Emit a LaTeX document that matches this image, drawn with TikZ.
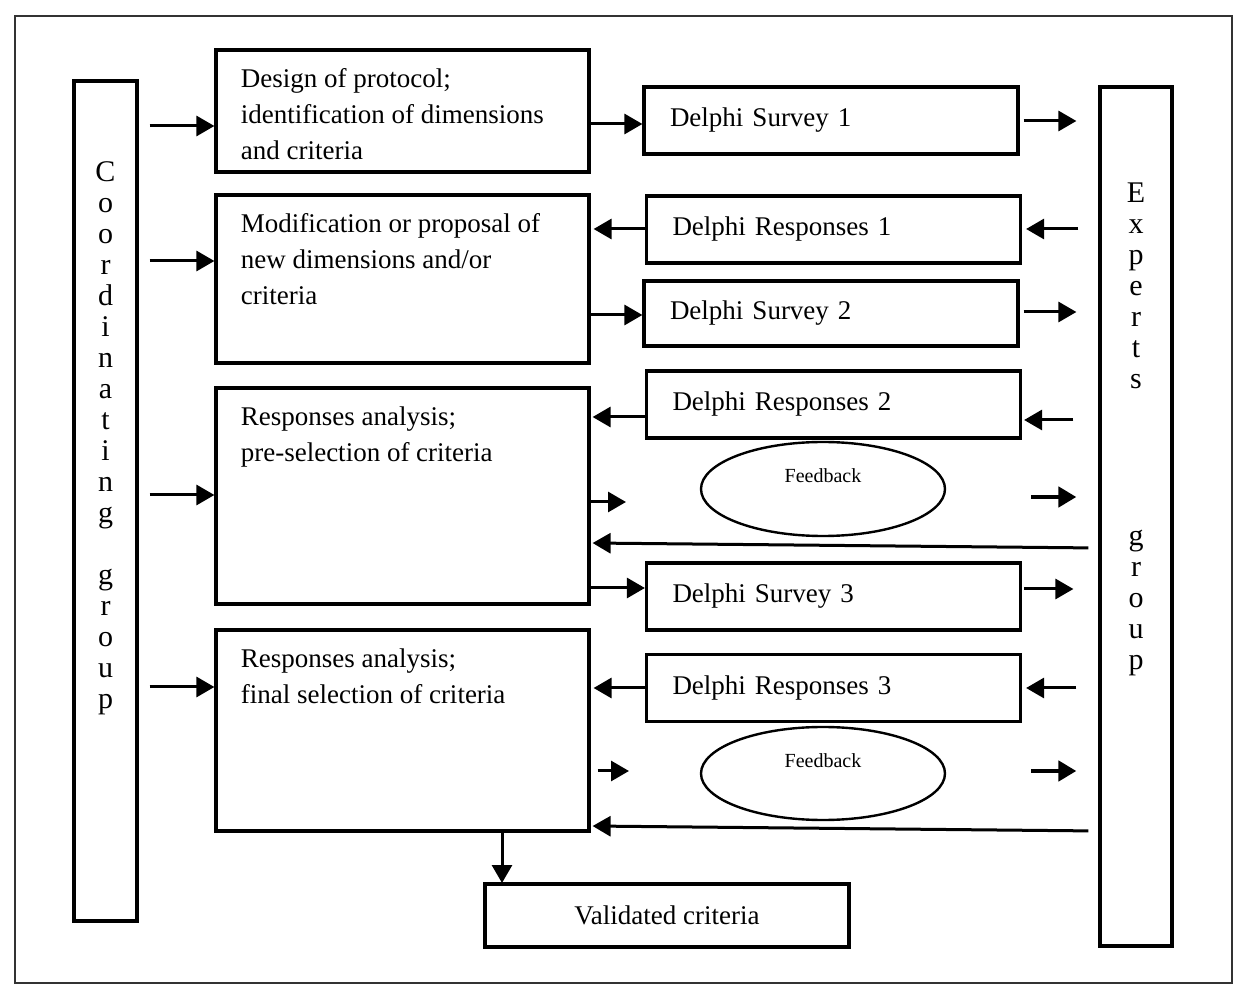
\documentclass[tikz,border=0pt]{standalone}
\usepackage{fontspec}
\setmainfont{Liberation Serif}
\usepackage{tikz}
\usetikzlibrary{arrows.meta,shapes.geometric,positioning}
\tikzset{>={Triangle[length=9pt,width=10pt]}}
\tikzset{stage box/.style={draw,line width=1.6pt,minimum width=186.5pt,inner sep=0pt},
         stage text/.style={anchor=north west,align=left,inner sep=0pt,xshift=13pt,yshift=-10pt,
                            font=\fontsize{13.5}{17.8}\selectfont},
         delphi box/.style={draw,line width=1.6pt,minimum height=33.5pt,text width=161pt,inner xsep=13pt,
                            align=left,font=\fontsize{13.5}{16}\selectfont},
         group box/.style={draw,line width=1.6pt,inner sep=0pt},
         group text/.style={anchor=north,align=center,inner sep=0pt,font=\fontsize{15}{15.5}\selectfont},
         feedback/.style={draw,ellipse,line width=1.2pt,minimum width=122pt,minimum height=47pt,
                          inner sep=0pt,text depth=13pt,font=\fontsize{10}{12}\selectfont},
         flow/.style={line width=1.5pt,every edge/.style={draw,->}},
            }

\begin{document}
\begin{tikzpicture}[x=0.5pt,y=-0.5pt]

    \useasboundingbox (0,0) rectangle (1250,1000);
    \draw[line width=0.8pt,black!80] (15,16) rectangle (1232,983);

    % groups
    \node[group box,minimum width=31.5pt,minimum height=420pt] (cg) at (105.5,501) {};
    \node[group text,yshift=-41pt] (cgtext) at (cg.north)
        {C\\o\\o\\r\\d\\i\\n\\a\\t\\i\\n\\g\\[15.5pt]g\\r\\o\\u\\p};
    \node[group box,minimum width=36pt,minimum height=429.5pt] (eg) at (1136,516.5) {};
    \node[group text,yshift=-48.5pt] (egtext) at (eg.north)
        {E\\x\\p\\e\\r\\t\\s\\[63pt]g\\r\\o\\u\\p};

    % stages
    \node[stage box,minimum height=61pt] (p1) at (402.5,111) {};
    \node[stage text] (p1text) at (p1.north west) {Design of protocol;\\identification of dimensions\\and criteria};
    \node[stage box,minimum height=84pt] (p2) at (402.5,279) {};
    \node[stage text] (p2text) at (p2.north west) {Modification or proposal of\\new dimensions and/or\\criteria};
    \node[stage box,minimum height=108pt] (p3) at (402.5,496) {};
    \node[stage text] (p3text) at (p3.north west) {Responses analysis;\\pre-selection of criteria};
    \node[stage box,minimum height=100.5pt] (p4) at (402.5,730.5) {};
    \node[stage text] (p4text) at (p4.north west) {Responses analysis;\\final selection of criteria};

    % delphi rounds
    \node[delphi box] (s1) at (831,120.5) {Delphi Survey 1};
    \node[delphi box] (r1) at (833.5,229.5) {Delphi Responses 1};
    \node[delphi box,minimum height=32.5pt] (s2) at (831,313.5) {Delphi Survey 2};
    \node[delphi box] (r2) at (833.5,404.5) {Delphi Responses 2};
    \node[feedback] (fb1) at (823,489) {Feedback};
    \node[delphi box] (s3) at (833.5,596.5) {Delphi Survey 3};
    \node[delphi box] (r3) at (833.5,688) {Delphi Responses 3};
    \node[feedback,minimum height=46.5pt] (fb2) at (823,773.5) {Feedback};

    \node[draw,line width=1.6pt,minimum width=182pt,minimum height=31.5pt,
          font=\fontsize{13.5}{16}\selectfont] (vc) at (667,915.5) {Validated criteria};

    \coordinate (fbin1) at (626,502);
    \coordinate (fbin2) at (629,771);
    \coordinate (vcin) at (502,883);

    \path[flow]
    (cg.east |- 0,126) edge[shorten <=5.5pt] (p1.west |- 0,126)
    (cg.east |- 0,261) edge[shorten <=5.5pt] (p2.west |- 0,261)
    (cg.east |- 0,495) edge[shorten <=5.5pt] (p3.west |- 0,495)
    (cg.east |- 0,687) edge[shorten <=5.5pt] (p4.west |- 0,687)
    (p1.east |- 0,124) edge (s1.west |- 0,124)
    (s1.east |- 0,121) edge[shorten <=2pt,shorten >=11pt] (eg.west |- 0,121)
    (eg.west |- 0,229) edge[shorten <=10pt,shorten >=2pt] (r1.east |- 0,229)
    (r1.west |- 0,229) edge[shorten >=1.5pt] (p2.east |- 0,229)
    (p2.east |- 0,315) edge (s2.west |- 0,315)
    (s2.east |- 0,312) edge[shorten <=2pt,shorten >=11pt] (eg.west |- 0,312)
    (eg.west |- 0,420) edge[shorten <=12.5pt,shorten >=1pt] (r2.east |- 0,420)
    (r2.west |- 0,417) edge[shorten >=1pt] (p3.east |- 0,417)
    (p3.east |- fbin1) edge (fbin1)
    (fb1.east |- 0,497) edge[shorten <=42.5pt,shorten >=11pt,line width=2.2pt] (eg.west |- 0,497)
    (eg.west |- 0,548) edge[shorten <=5pt,shorten >=1pt] (p3.east |- 0,543)
    (p3.east |- 0,588) edge (s3.west |- 0,588)
    (s3.east |- 0,589) edge[shorten <=1pt,shorten >=12.5pt] (eg.west |- 0,589)
    (eg.west |- 0,688) edge[shorten <=11pt,shorten >=2pt] (r3.east |- 0,688)
    (r3.west |- 0,688) edge[shorten >=1.5pt] (p4.east |- 0,688)
    (p4.east |- fbin2) edge[shorten <=3.5pt] (fbin2)
    (fb2.east |- 0,771) edge[shorten <=42.5pt,shorten >=11pt,line width=2.2pt] (eg.west |- 0,771)
    (eg.west |- 0,831) edge[shorten <=5pt,shorten >=1pt] (p4.east |- 0,826)
    (p4.south -| vcin) edge (vcin);

\end{tikzpicture}
\end{document}
